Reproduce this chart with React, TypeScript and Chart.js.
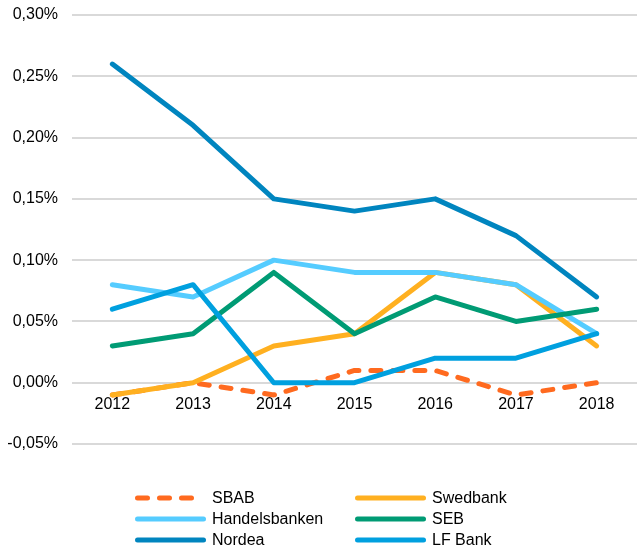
import React, { useEffect, useRef } from 'react';
import { Chart, registerables } from 'chart.js';

Chart.register(...registerables);

const years = ['2012', '2013', '2014', '2015', '2016', '2017', '2018'];
const sbab = [-0.01, 0.0, -0.01, 0.01, 0.01, -0.01, 0.0];
const swedbank = [-0.01, 0.0, 0.03, 0.04, 0.09, 0.08, 0.03];
const handelsbanken = [0.08, 0.07, 0.1, 0.09, 0.09, 0.08, 0.04];
const seb = [0.03, 0.04, 0.09, 0.04, 0.07, 0.05, 0.06];
const nordea = [0.26, 0.21, 0.15, 0.14, 0.15, 0.12, 0.07];
const lfBank = [0.06, 0.08, 0.0, 0.0, 0.02, 0.02, 0.04];

const yMin = -0.05;
const yMax = 0.3;
const yStep = 0.05;

const seriesNames = ['SBAB', 'Swedbank', 'Handelsbanken', 'SEB', 'Nordea', 'LF Bank'];
const seriesData = [sbab, swedbank, handelsbanken, seb, nordea, lfBank];
const seriesColors = ['#FF6A1F', '#FFB020', '#55CCFF', '#009B74', '#0085BF', '#00A0DF'];
const seriesDashed = [true, false, false, false, false, false];

const FONT = "'Liberation Sans', Arial, sans-serif";
const TEXT = '#000000';
const FONT_SIZE = 16;

const legendPlugin = {
  id: 'gridLegend',
  afterDraw(chart: any) {
    const ctx = chart.ctx;
    const colX = [135, 355];
    const rowY = [498, 519, 540];
    ctx.save();
    seriesNames.forEach((name, i) => {
      const x = colX[i % 2];
      const y = rowY[Math.floor(i / 2)];
      ctx.beginPath();
      ctx.lineWidth = 5;
      ctx.lineCap = 'round';
      ctx.strokeStyle = seriesColors[i];
      ctx.setLineDash(seriesDashed[i] ? [10, 12] : []);
      ctx.moveTo(x + 2.5, y);
      ctx.lineTo(x + 68.5, y);
      ctx.stroke();
      ctx.setLineDash([]);
      ctx.fillStyle = TEXT;
      ctx.font = `${FONT_SIZE}px ${FONT}`;
      ctx.textAlign = 'left';
      ctx.textBaseline = 'middle';
      ctx.fillText(name, x + 77, y + 1);
    });
    ctx.restore();
  },
};

export default function App() {
  const ref = useRef<HTMLCanvasElement | null>(null);

  useEffect(() => {
    if (!ref.current) return;
    const n = seriesNames.length;
    const chart = new Chart(ref.current, {
      type: 'line',
      data: {
        labels: years,
        datasets: seriesNames.map((name, i) => ({
          label: name,
          data: seriesData[i],
          borderColor: seriesColors[i],
          backgroundColor: seriesColors[i],
          borderWidth: 5,
          borderDash: seriesDashed[i] ? [10, 12] : [],
          borderCapStyle: 'round',
          borderJoinStyle: 'round',
          pointRadius: 0,
          pointHoverRadius: 0,
          fill: false,
          tension: 0,
          order: n - i,
        })),
      },
      options: {
        animation: false,
        responsive: false,
        devicePixelRatio: 1,
        layout: { padding: { top: 15, bottom: 103, left: 0, right: 0 } },
        plugins: {
          legend: { display: false },
          tooltip: { enabled: false },
        },
        scales: {
          x: {
            type: 'category',
            position: { y: 0 } as any,
            offset: true,
            grid: { display: false, drawTicks: false },
            border: { display: false },
            afterFit: (scale: any) => {
              scale.paddingLeft = 0;
              scale.paddingRight = 0;
              scale.paddingTop = 0;
              scale.paddingBottom = 0;
            },
            ticks: {
              color: TEXT,
              font: { family: FONT, size: FONT_SIZE },
              padding: 12,
              maxRotation: 0,
              autoSkip: false,
            },
          },
          y: {
            min: yMin,
            max: yMax,
            grid: { color: '#d9d9d9', lineWidth: 2, drawTicks: false },
            border: { display: false },
            afterFit: (scale: any) => {
              scale.width = 72;
              scale.paddingTop = 0;
              scale.paddingBottom = 0;
            },
            ticks: {
              stepSize: yStep,
              color: TEXT,
              font: { family: FONT, size: FONT_SIZE },
              padding: 14,
              callback: (v: any) => {
                const num = Math.abs(Number(v)) < 1e-9 ? 0 : Number(v);
                return num.toFixed(2).replace('.', ',') + '%';
              },
            },
          },
        },
      },
      plugins: [legendPlugin],
    });
    return () => chart.destroy();
  }, []);

  return (
    <div style={{ position: 'absolute', left: 0, top: 0, width: 637, height: 547 }}>
      <canvas ref={ref} width={637} height={547} style={{ width: 637, height: 547, display: 'block' }} />
    </div>
  );
}
